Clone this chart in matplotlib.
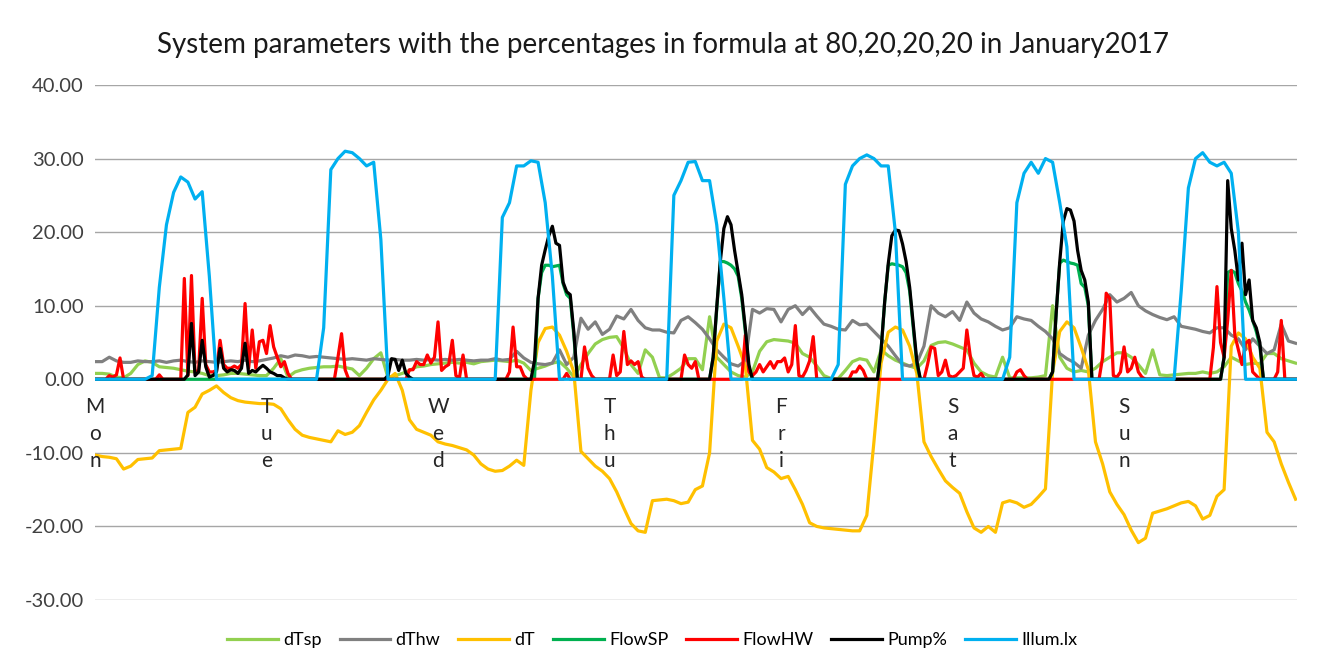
import numpy as np
import matplotlib
matplotlib.use("Agg")
import matplotlib.pyplot as plt

plt.rcParams['font.family'] = ['Lato', 'DejaVu Sans']

title = "System parameters with the percentages in formula at 80,20,20,20 in January2017"
days = ["Mon", "Tue", "Wed", "Thu", "Fri", "Sat", "Sun"]

# hourly series, Mon 00:00 .. Sun 24:00
dTsp = (
    [0.8, 0.8, 0.7, 0.3, 0.2, 0.8, 2.0, 2.5, 2.3, 1.7, 1.6, 1.5, 1.3, 1.1, 1.0, 0.8, 0.5, 0.5, 0.6, 0.8, 0.8, 0.7, 0.6, 0.5]
    + [0.5, 1.5, 2.8, 0.3, 1.0, 1.3, 1.5, 1.6, 1.7, 1.7, 1.8, 1.6, 1.4, 0.5, 1.5, 2.8, 3.6, 0.2, 0.5, 0.8, 1.2, 1.7, 1.8, 2.0]
    + [2.1, 2.2, 2.3, 2.2, 2.3, 2.1, 2.4, 2.5, 2.6, 2.5, 2.4, 2.6, 2.2, 1.2, 1.5, 1.8, 2.2, 2.4, 1.5, 0.3, 2.0, 3.5, 4.8, 5.4]
    + [5.7, 5.8, 4.2, 2.0, 0.8, 4.0, 3.0, 0.2, 0.2, 0.8, 1.5, 2.8, 2.8, 1.3, 8.5, 3.0, 2.0, 1.0, 0.5, 0.3, 1.0, 3.8, 5.1, 5.4]
    + [5.3, 5.2, 4.9, 3.5, 3.0, 1.8, 0.5, 0.1, 0.1, 1.2, 2.4, 2.8, 2.6, 1.0, 4.0, 3.2, 2.6, 2.2, 1.8, 1.5, 2.5, 4.6, 5.0, 5.1]
    + [4.8, 4.4, 4.0, 2.2, 1.0, 0.5, 0.3, 3.0, 0.2, 0.2, 0.2, 0.2, 0.3, 0.5, 10.0, 3.0, 1.5, 1.0, 1.2, 1.0, 1.5, 2.4, 3.0, 3.6]
    + [3.6, 3.0, 2.0, 0.8, 4.0, 0.6, 0.5, 0.6, 0.7, 0.8, 0.8, 1.0, 0.8, 1.0, 1.7, 3.0, 2.5, 2.0, 2.2, 2.1, 3.5, 3.5, 2.8, 2.5, 2.2]
)
dThw = (
    [2.4, 2.4, 3.0, 2.5, 2.3, 2.3, 2.5, 2.4, 2.4, 2.5, 2.3, 2.5, 2.6, 2.4, 2.3, 2.5, 2.4, 2.3, 2.4, 2.5, 2.4, 2.6, 2.4, 2.5]
    + [2.7, 2.9, 3.2, 3.0, 3.3, 3.2, 3.0, 3.1, 3.0, 2.9, 2.8, 2.7, 2.8, 2.7, 2.6, 2.8, 2.7, 2.6, 2.7, 2.6, 2.6, 2.7, 2.6, 2.7]
    + [2.6, 2.7, 2.6, 2.7, 2.6, 2.5, 2.6, 2.6, 2.8, 2.6, 2.7, 3.8, 2.9, 2.3, 2.1, 2.0, 2.2, 4.0, 2.0, 3.0, 8.3, 6.8, 7.8, 6.1]
    + [6.8, 8.6, 8.2, 9.5, 8.0, 7.0, 6.7, 6.7, 6.4, 6.3, 8.0, 8.5, 7.7, 6.8, 5.5, 4.0, 3.0, 2.1, 1.8, 2.5, 9.5, 9.0, 9.6, 9.5]
    + [7.8, 9.5, 10.0, 8.8, 9.8, 8.6, 7.5, 7.2, 6.8, 6.7, 8.0, 7.4, 7.5, 6.5, 5.5, 4.5, 3.2, 2.0, 1.8, 2.2, 4.5, 10.0, 9.0, 8.5]
    + [9.2, 8.0, 10.5, 9.0, 8.2, 7.8, 7.2, 6.7, 7.0, 8.5, 8.2, 8.0, 7.2, 6.5, 5.5, 3.5, 2.8, 2.3, 1.5, 6.0, 8.0, 9.5, 11.5, 10.5]
    + [11.0, 11.8, 10.0, 9.3, 8.8, 8.4, 8.1, 8.5, 7.2, 7.0, 6.8, 6.5, 6.3, 7.0, 7.0, 6.0, 5.5, 4.0, 5.5, 4.5, 3.5, 4.0, 7.5, 5.2, 4.9]
)
dT = (
    [-10.3, -10.5, -10.6, -10.8, -12.2, -11.8, -10.9, -10.8, -10.7, -9.7, -9.6, -9.5, -9.4, -4.5, -3.8, -2.0, -1.5, -0.9, -1.8, -2.5, -2.9, -3.1, -3.2, -3.3]
    + [-3.3, -3.4, -4.0, -5.5, -6.8, -7.6, -7.9, -8.1, -8.3, -8.5, -7.0, -7.5, -7.2, -6.3, -4.5, -2.8, -1.5, 0.0, 0.8, -1.5, -5.5, -6.8, -7.2, -7.6]
    + [-8.5, -8.8, -9.0, -9.3, -9.6, -10.3, -11.5, -12.2, -12.5, -12.4, -11.8, -11.0, -11.7, -1.5, 5.0, 6.9, 7.1, 6.0, 3.8, 1.0, -9.8, -10.8, -11.8, -12.5]
    + [-13.5, -15.3, -17.5, -19.6, -20.6, -20.8, -16.5, -16.4, -16.3, -16.5, -16.9, -16.7, -15.0, -14.5, -10.0, 5.2, 7.5, 7.0, 4.5, 1.8, -8.3, -9.5, -12.0, -12.6]
    + [-13.5, -13.2, -15.0, -17.0, -19.5, -20.0, -20.2, -20.3, -20.4, -20.5, -20.6, -20.6, -18.5, -8.5, 2.2, 6.4, 7.1, 6.7, 4.5, 0.8, -8.5, -10.5, -12.2, -13.8]
    + [-14.7, -15.5, -18.0, -20.2, -20.8, -20.0, -20.8, -16.8, -16.5, -16.8, -17.4, -17.0, -16.0, -14.9, 1.0, 6.5, 7.8, 7.0, 4.3, 1.3, -8.5, -11.5, -15.3, -17.0]
    + [-18.4, -20.5, -22.2, -21.6, -18.2, -17.9, -17.6, -17.2, -16.8, -16.6, -17.2, -19.0, -18.5, -15.9, -15.0, 4.5, 6.3, 5.5, 3.0, 1.5, -7.2, -8.5, -11.5, -14.0, -16.3]
)
illum_lx = (
    [0, 0, 0, 0, 0, 0, 0, 0, 0.5, 12.5, 21, 25.4, 27.5, 26.8, 24.5, 25.5, 14, 0, 0, 0, 0, 0, 0, 0]
    + [0, 0, 0, 0, 0, 0, 0, 0, 7, 28.5, 30, 31, 30.8, 30, 29, 29.5, 19, 0, 0, 0, 0, 0, 0, 0]
    + [0, 0, 0, 0, 0, 0, 0, 0, 0, 22, 24, 29, 29, 29.7, 29.5, 24, 14, 0, 0, 0, 0, 0, 0, 0]
    + [0, 0, 0, 0, 0, 0, 0, 0, 0, 25, 27, 29.5, 29.6, 27, 27, 21, 11, 0, 0, 0, 0, 0, 0, 0]
    + [0, 0, 0, 0, 0, 0, 0, 0, 2, 26.5, 29, 30, 30.5, 30, 29, 29, 20, 0, 0, 0, 0, 0, 0, 0]
    + [0, 0, 0, 0, 0, 0, 0, 0, 3, 24, 28, 29.5, 28, 30, 29.5, 24, 18, 0, 0, 0, 0, 0, 0, 0]
    + [0, 0, 0, 0, 0, 0, 0, 0, 12, 26, 30, 30.8, 29.5, 29, 29.5, 28, 20, 0, 0, 0, 0, 0, 0, 0, 0]
)

# half-hourly series
flow_sp = (
    [0] * 48
    + [0] * 48
    + [0] * 28 + [11.0, 14.5, 15.5, 15.5, 15.3, 15.4, 15.5, 13.0, 11.5, 11.0, 6.0] + [0] * 9
    + [0] * 29 + [3.0, 9.5, 16.0, 16.0, 15.8, 15.5, 15.0, 14.0, 11.0, 6.5, 1.5] + [0] * 8
    + [0] * 28 + [4.0, 10.5, 15.5, 15.7, 15.6, 15.5, 15.3, 14.5, 12.0, 7.0, 2.0] + [0] * 9
    + [0] * 28 + [1.0, 9.0, 15.8, 16.2, 16.0, 15.8, 15.7, 15.5, 13.0, 12.5, 10.0] + [0] * 9
    + [0] * 28 + [3.0, 14.5, 14.8, 14.5, 13.0, 12.0, 10.5, 9.4, 8.0, 6.5, 4.5] + [0] * 9 + [0]
)
flow_hw = (
    [0, 0, 0, 0, 0.5, 0.3, 0.6, 2.9] + [0] * 10 + [0.6] + [0] * 6
    + [13.7, 0.5, 14.1, 1.0, 1.2, 11.0, 2.0, 1.0, 1.0, 1.2, 5.3, 2.0, 1.5, 1.5, 1.8, 1.5, 2.0, 10.3, 1.5, 6.7, 1.5, 5.1, 5.3]
    + [3.5, 7.3, 4.4, 3.0, 1.7, 2.4, 0.8] + [0] * 13 + [3.0, 6.2, 1.3] + [0] * 17
    + [1.3, 1.3, 2.4, 2.0, 2.0, 3.3, 2.2, 3.0]
    + [7.8, 1.2, 1.7, 2.0, 5.3, 0.5, 0.2, 3.3] + [0] * 12 + [1.0, 7.1, 1.7, 1.7, 0.5] + [0] * 11
    + [0.8] + [0] * 4 + [4.4, 1.5, 0.5] + [0] * 4
    + [0, 3.3, 0.5, 1.0, 6.5, 2.0, 2.5, 2.0, 2.4, 0.3] + [0] * 11 + [3.3, 2.0, 1.5, 2.4] + [0] * 13
    + [6.0, 1.0, 0.5, 1.0, 2.0, 1.0, 1.7, 2.4, 1.5, 2.4]
    + [2.4, 2.9, 1.0, 2.0, 7.3, 0.5, 0.3, 1.2, 2.5, 5.8] + [0] * 10 + [1.0, 1.0, 1.8, 1.2] + [0] * 17
    + [2.0, 4.4, 4.2, 0.5, 1.0, 2.6, 0.5]
    + [0.3, 0.5, 1.0, 1.5, 6.7, 3.0, 0.5, 0.3, 0.8] + [0] * 9 + [1.0, 1.3, 0.5] + [0] * 21
    + [3.0, 11.7, 11.0, 0.5, 0.3, 1.0]
    + [4.4, 1.0, 1.5, 3.0, 1.0, 0.3] + [0] * 19
    + [4.3, 12.6, 5.0, 3.0, 8.0, 14.8, 6.0, 4.0, 2.0, 4.9, 5.3, 1.0, 0.5] + [0] * 5 + [1.0, 8.0] + [0] * 3 + [0]
)
pump_pct = (
    [0] * 26 + [0.6, 7.6, 0.5, 1.0, 5.3, 1.7, 0.3, 0.5, 1.0, 4.2, 1.5, 1.0, 1.3, 1.2, 0.8, 1.5, 4.9, 0.8, 1.2, 1.0, 1.5, 1.9]
    + [1.5, 1.0, 0.8, 0.5, 0.5, 0.2] + [0] * 28 + [0.5, 2.8, 2.7, 1.2, 2.6, 0.8, 0.3] + [0] * 7
    + [0] * 27 + [2.5, 11.0, 15.5, 17.6, 19.5, 20.8, 18.5, 18.2, 13.2, 11.9, 11.5, 6.5] + [0] * 9
    + [0] * 29 + [3.0, 9.8, 16.0, 20.5, 22.1, 21.0, 17.5, 14.5, 11.5, 7.0, 2.0] + [0] * 8
    + [0] * 28 + [4.0, 10.5, 15.7, 19.5, 20.3, 20.2, 18.4, 16.0, 12.5, 7.5, 2.5] + [0] * 9
    + [0] * 28 + [1.0, 9.0, 16.0, 21.5, 23.2, 23.0, 21.5, 17.5, 14.8, 13.5, 10.5] + [0] * 9
    + [0] * 28 + [3.0, 27.0, 20.5, 17.5, 13.5, 18.5, 11.5, 13.5, 8.0, 7.0, 5.0] + [0] * 9 + [0]
)

t_hr = np.arange(len(dT))
t_half = np.arange(len(flow_hw)) / 2.0

fig = plt.figure(figsize=(13.23, 6.71), dpi=100)
ax = fig.add_axes([95 / 1323, 1 - 600 / 671, 1202 / 1323, 515 / 671])

lw = 2.3
ax.plot(t_hr, dTsp, color="#92D050", lw=lw, label="dTsp")
ax.plot(t_hr, dThw, color="#808080", lw=lw, label="dThw")
ax.plot(t_hr, dT, color="#FFC000", lw=lw, label="dT")
ax.plot(t_half, flow_sp, color="#00B050", lw=lw, label="FlowSP")
ax.plot(t_half, flow_hw, color="#FF0000", lw=lw, label="FlowHW")
ax.plot(t_half, pump_pct, color="#000000", lw=lw, label="Pump%")
ax.plot(t_hr, illum_lx, color="#00B0F0", lw=lw, label="Illum.lx")

ax.set_xlim(0, 168.2)
ax.set_ylim(-30, 40)
ax.set_yticks(np.arange(-30, 41, 10))
ax.set_yticklabels(["%.2f" % v for v in np.arange(-30, 41, 10)], fontsize=14.5, color="#404040")
ax.set_xticks([])
ax.tick_params(axis="y", length=0, pad=8)
ax.grid(axis="y", color="#a6a6a6", lw=1)
ax.set_axisbelow(True)
for s in ax.spines.values():
    s.set_visible(False)

for i, d in enumerate(days):
    ax.text(i * 24, -2.4, "\n".join(d), ha="center", va="top", fontsize=15,
            linespacing=1.45, color="#262626")

fig.text(0.501, 1 - 45 / 671, title, ha="center", va="center", fontsize=20, color="#1a1a1a")

fig.legend(loc="center", bbox_to_anchor=(0.493, 1 - 640 / 671), ncol=7, frameon=False,
           fontsize=13, handlelength=2.8, columnspacing=1.0, handletextpad=0.3)

fig.savefig("out.png", dpi=100)
